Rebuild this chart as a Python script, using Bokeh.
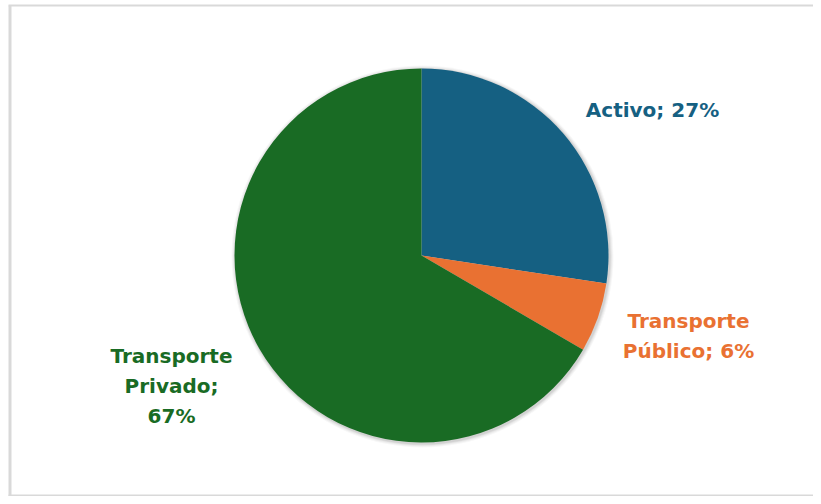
import math
from bokeh.plotting import figure
from bokeh.models import Range1d, ColumnDataSource
from bokeh.embed import file_html
from bokeh.resources import INLINE
from bokeh.core.properties import value

# ---- data ----
categories = ["Activo", "Transporte Público", "Transporte Privado"]
shares = [27.4, 6.0, 66.6]
pct_labels = ["27%", "6%", "67%"]
colors = ["#156082", "#E97132", "#196B24"]
label_lines = [
    ["Activo; 27%"],
    ["Transporte", "Público; 6%"],
    ["Transporte", "Privado;", "67%"],
]

# ---- layout (picture pixels; y downward is negative) ----
W, H = 813, 496
cx, cy, R = 421, -255, 187
label_anchor = [(652, -109), (688, -320), (171, -355)]
line_gap = 30

p = figure(width=W, height=H, output_backend="svg", toolbar_location=None,
           x_range=Range1d(0, W), y_range=Range1d(-H, 0),
           min_border=0)
p.axis.visible = False
p.grid.visible = False
p.background_fill_color = "white"
p.border_fill_color = "white"
p.outline_line_color = None

# chart-area border (left, top, bottom)
bc = "#d9d9d9"
p.line(x=[9.5, 9.5], y=[-5, -H], line_color=bc, line_width=3)
p.line(x=[8, W], y=[-5, -5], line_color=bc, line_width=2)
p.line(x=[8, W], y=[-H + 1, -H + 1], line_color=bc, line_width=2)

# soft shadow
for r_off, a in [(4, 0.03), (3, 0.04), (2, 0.05), (1, 0.06)]:
    p.circle(x=[cx + 1], y=[cy - 1], radius=R + r_off, fill_color="black",
             fill_alpha=a, line_color=None)

total = sum(shares)
starts, ends = [], []
ang = math.pi / 2
for s in shares:
    a2 = ang - s / total * 2 * math.pi
    starts.append(ang)
    ends.append(a2)
    ang = a2

src = ColumnDataSource(dict(cat=categories, start=starts, end=ends, color=colors))
p.wedge(x=cx, y=cy, radius=R, start_angle="start", end_angle="end",
        direction="clock", fill_color="color", line_color=None, source=src)

tx, ty, tt, tc = [], [], [], []
for lines, (ax, ay), col in zip(label_lines, label_anchor, colors):
    for i, ln in enumerate(lines):
        tx.append(ax)
        ty.append(ay - i * line_gap)
        tt.append(ln)
        tc.append(col)
p.text(x=tx, y=ty, text=tt, text_color=tc, text_align="center",
       text_baseline="alphabetic", text_font=value("DejaVu Sans"),
       text_font_style="bold", text_font_size="20px")

open("out.html", "w").write(file_html(p, INLINE))
